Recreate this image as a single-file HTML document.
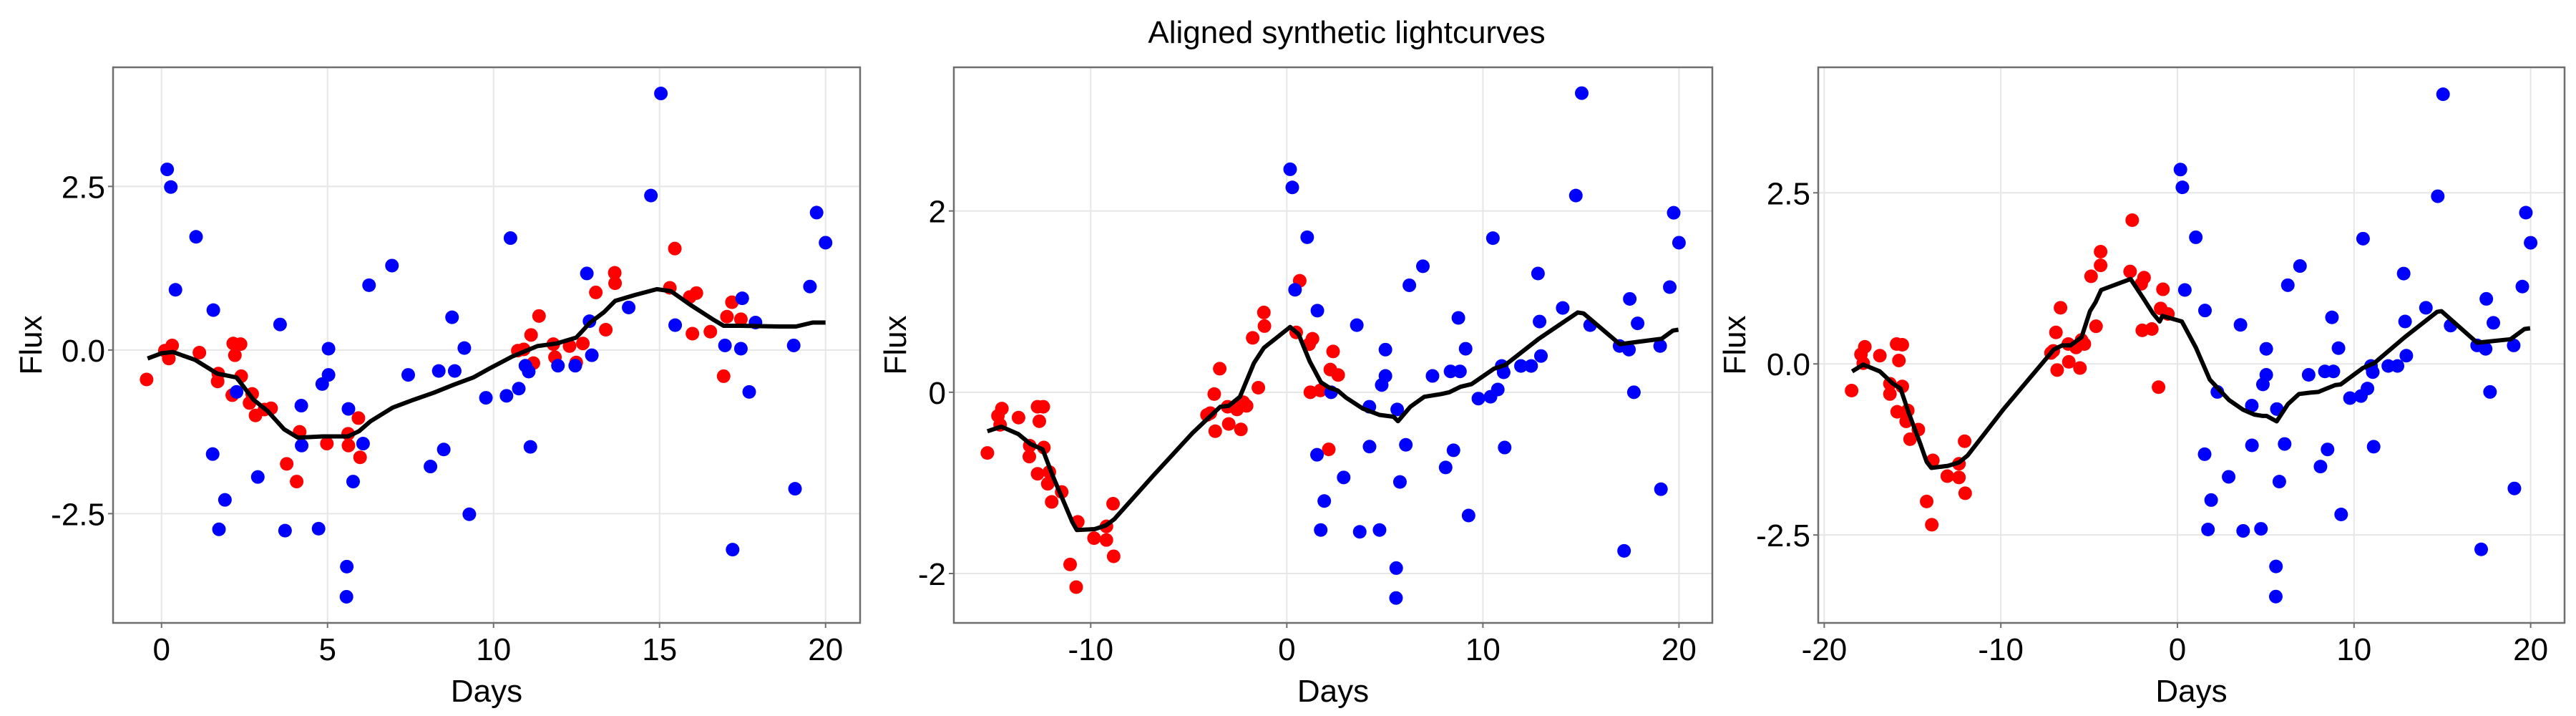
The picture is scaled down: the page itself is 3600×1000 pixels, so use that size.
<!DOCTYPE html>
<html><head><meta charset="utf-8"><style>
html,body{margin:0;padding:0;background:#fff;}
svg{display:block;font-family:"Liberation Sans",Arial,sans-serif;}
</style></head><body>
<svg id="chart" width="3600" height="1000" viewBox="0 0 3600 1000" xmlns="http://www.w3.org/2000/svg">
<rect width="3600" height="1000" fill="#fff"/>
<text x="1882" y="60" font-size="44" text-anchor="middle" fill="#000">Aligned synthetic lightcurves</text>
</svg>
<script>
// shared blue observation days
const blueDays = [0.17,0.28,0.42,1.04,1.56,1.54,1.73,1.91,2.26,2.90,3.57,3.72,4.21,4.22,4.73,4.84,5.03,5.03,5.58,5.57,5.63,5.77,6.07,6.25,6.94,7.43,8.10,8.35,8.50,8.75,8.83,9.12,9.27,9.77,10.39,10.51,10.76,10.96,11.06,11.11,11.94,12.46,12.81,12.89,12.96,14.07,14.74,15.04,15.47,16.97,17.20,17.45,17.49,17.70,17.89,19.04,19.08,19.53,19.73,20.0];
const blueFlux1 = [2.76,2.49,0.92,1.73,0.61,-1.59,-2.74,-2.29,-0.64,-1.94,0.39,-2.76,-0.85,-1.46,-2.73,-0.52,0.02,-0.38,-3.31,-3.77,-0.90,-2.01,-1.43,0.99,1.29,-0.38,-1.78,-0.32,-1.52,0.50,-0.32,0.03,-2.51,-0.73,-0.70,1.71,-0.59,-0.24,-0.33,-1.48,-0.24,-0.24,1.17,0.44,-0.08,0.65,2.36,3.92,0.38,0.07,-3.05,0.02,0.79,-0.64,0.42,0.07,-2.12,0.97,2.10,1.64];
const blueFlux2 = [2.46,2.26,1.13,1.71,0.90,-0.69,-1.52,-1.20,0.00,-0.94,0.74,-1.54,-0.16,-0.60,-1.52,0.08,0.47,0.18,-1.94,-2.27,-0.19,-0.99,-0.58,1.18,1.39,0.18,-0.83,0.23,-0.64,0.82,0.23,0.48,-1.36,-0.07,-0.05,1.70,0.03,0.29,0.22,-0.61,0.29,0.29,1.31,0.78,0.40,0.93,2.17,3.30,0.74,0.51,-1.75,0.47,1.03,0.00,0.76,0.51,-1.07,1.16,1.98,1.65];
const blueFlux3 = [2.84,2.58,1.08,1.85,0.78,-1.32,-2.42,-1.99,-0.41,-1.65,0.57,-2.44,-0.61,-1.19,-2.41,-0.30,0.22,-0.16,-2.96,-3.40,-0.66,-1.72,-1.17,1.15,1.43,-0.16,-1.50,-0.11,-1.25,0.68,-0.11,0.23,-2.20,-0.50,-0.47,1.83,-0.36,-0.03,-0.12,-1.21,-0.03,-0.03,1.32,0.62,0.12,0.82,2.45,3.94,0.56,0.27,-2.71,0.22,0.95,-0.41,0.60,0.27,-1.82,1.13,2.21,1.77];

const redDays1 = [-0.45,0.10,0.22,0.32,1.14,1.71,1.69,2.13,2.16,2.21,2.38,2.40,2.73,2.65,2.83,3.10,3.30,3.77,4.07,4.16,4.98,5.62,5.63,5.93,5.98,10.73,10.91,11.13,11.20,11.37,11.80,11.85,12.29,12.49,12.69,13.08,13.38,13.65,13.66,15.31,15.46,15.91,16.11,15.99,16.53,16.93,17.03,17.18,17.45];
const redFlux1 = [-0.45,-0.01,-0.13,0.07,-0.04,-0.36,-0.48,-0.69,0.10,-0.08,0.09,-0.40,-0.67,-0.81,-1.00,-0.91,-0.89,-1.74,-2.01,-1.25,-1.43,-1.28,-1.46,-1.04,-1.64,-0.01,0.01,0.23,-0.20,0.52,0.09,-0.11,0.06,-0.19,0.10,0.88,0.31,1.18,1.02,0.95,1.55,0.81,0.87,0.25,0.28,-0.40,0.51,0.73,0.47];
const lineDays1 = [-0.42,0,0.34,1.01,1.68,2.26,2.77,3.19,3.69,4.11,4.86,5.62,5.95,6.29,6.96,7.54,8.21,8.80,9.39,9.89,10.56,11.32,11.90,12.49,12.91,13.33,13.66,14.25,14.92,15.34,15.93,16.60,16.93,17.43,18.61,19.11,19.61,20.0];
const lineFlux1 = [-0.13,-0.05,-0.03,-0.15,-0.36,-0.42,-0.76,-0.93,-1.21,-1.34,-1.32,-1.32,-1.24,-1.09,-0.88,-0.77,-0.65,-0.53,-0.42,-0.28,-0.10,0.06,0.10,0.19,0.42,0.58,0.75,0.84,0.93,0.90,0.69,0.47,0.37,0.37,0.36,0.36,0.42,0.42];

const redDays2 = [-15.27,-14.73,-14.53,-14.62,-13.68,-13.11,-13.13,-12.71,-12.42,-12.62,-12.39,-12.71,-12.11,-12.19,-11.99,-11.48,-11.05,-10.74,-10.66,-9.83,-9.20,-9.20,-8.86,-8.83,-4.07,-3.90,-3.70,-3.65,-3.42,-3.02,-2.96,-2.54,-2.34,-2.22,-2.05,-1.74,-1.45,-1.17,-1.14,0.48,0.66,1.14,1.20,1.31,1.71,2.14,2.22,2.36,2.62];
const redFlux2 = [-0.67,-0.26,-0.18,-0.36,-0.28,-0.59,-0.71,-0.16,-0.16,-0.32,-0.61,-0.90,-0.88,-1.01,-1.21,-1.10,-1.90,-2.15,-1.43,-1.61,-1.48,-1.63,-1.23,-1.81,-0.25,-0.23,-0.02,-0.43,0.26,-0.16,-0.35,-0.19,-0.41,-0.11,-0.15,0.60,0.05,0.88,0.73,0.66,1.23,0.53,0.00,0.59,0.02,-0.63,0.25,0.45,0.19];
const lineDays2 = [-15.27,-14.56,-13.70,-13.08,-12.45,-11.94,-10.94,-10.71,-9.80,-9.23,-8.80,-6.81,-4.81,-3.39,-2.96,-2.39,-1.68,-1.17,0.17,0.60,1.17,1.74,2.17,2.59,3.02,3.87,4.73,5.44,5.67,6.30,7.01,7.86,8.29,8.86,9.43,10.57,11.14,12.85,14.84,15.13,16.98,19.12,19.69,19.97];
const lineFlux2 = [-0.43,-0.38,-0.46,-0.57,-0.63,-0.92,-1.43,-1.52,-1.51,-1.47,-1.40,-0.92,-0.45,-0.16,-0.15,-0.05,0.32,0.49,0.72,0.64,0.34,0.11,0.05,0.02,-0.06,-0.18,-0.25,-0.27,-0.32,-0.16,-0.05,-0.02,0.00,0.06,0.09,0.26,0.30,0.59,0.88,0.87,0.53,0.59,0.68,0.69];

const redDays3 = [-18.45,-17.92,-17.70,-17.79,-16.85,-16.28,-16.28,-15.90,-15.58,-15.77,-15.58,-15.87,-15.27,-15.36,-15.14,-14.67,-14.20,-13.91,-13.85,-13.03,-12.37,-12.37,-12.05,-12.02,-7.16,-7.03,-6.88,-6.81,-6.62,-6.18,-6.15,-5.74,-5.52,-5.43,-5.27,-4.89,-4.61,-4.35,-4.35,-2.68,-2.56,-2.05,-1.89,-1.99,-1.45,-1.07,-0.95,-0.82,-0.54];
const redFlux3 = [-0.39,0.14,0.25,0.01,0.12,-0.29,-0.44,0.29,0.28,0.05,-0.33,-0.70,-0.68,-0.84,-1.10,-0.96,-2.01,-2.35,-1.41,-1.64,-1.46,-1.66,-1.13,-1.89,0.16,0.19,0.46,-0.09,0.82,0.29,0.03,0.24,-0.06,0.35,0.29,1.28,0.55,1.44,1.64,1.35,2.10,1.17,1.26,0.49,0.51,-0.34,0.81,1.09,0.73];
const lineDays3 = [-18.42,-17.79,-16.85,-16.15,-15.68,-15.21,-14.57,-14.20,-13.94,-13.00,-12.37,-11.89,-9.84,-7.00,-6.53,-6.06,-5.43,-4.95,-4.64,-4.32,-2.65,-1.96,-1.39,-1.01,-0.85,0.25,1.04,1.83,2.93,3.72,4.35,4.83,5.05,5.62,6.25,6.88,7.51,7.98,8.45,8.93,9.24,10.50,11.14,12.87,14.70,14.95,16.97,18.86,19.65,19.97];
const lineFlux3 = [-0.11,-0.01,-0.11,-0.28,-0.36,-0.72,-1.16,-1.43,-1.52,-1.49,-1.44,-1.34,-0.66,0.21,0.27,0.27,0.39,0.77,0.90,1.08,1.24,0.97,0.74,0.62,0.70,0.62,0.24,-0.23,-0.53,-0.67,-0.74,-0.76,-0.76,-0.84,-0.59,-0.44,-0.42,-0.41,-0.36,-0.31,-0.30,-0.06,0.01,0.39,0.76,0.77,0.31,0.36,0.51,0.52];

const xTicks1 = [0,5,10,15,20];
const yTicks1 = [2.5,0,-2.5];
const yTickLabels1 = ["2.5","0.0","-2.5"];
const xTicks2 = [-10,0,10,20];
const yTicks2 = [2,0,-2];
const yTickLabels2 = ["2","0","-2"];
const xTicks3 = [-20,-10,0,10,20];
const yTicks3 = [2.5,0,-2.5];
const yTickLabels3 = ["2.5","0.0","-2.5"];

const NS="http://www.w3.org/2000/svg";
const svg=document.getElementById('chart');
function mk(tag,attrs,parent){const e=document.createElementNS(NS,tag);for(const k in attrs)e.setAttribute(k,attrs[k]);(parent||svg).appendChild(e);return e;}

function panel(p){
  const g=mk('g',{});
  
  
  const sx=v=>p.x0+(v-p.xmin)/(p.xmax-p.xmin)*(p.x1-p.x0);
  const sy=v=>p.y1-(v-p.ymin)/(p.ymax-p.ymin)*(p.y1-p.y0);
  p.xt.forEach(t=>{const l=mk('line',{x1:sx(t),x2:sx(t),y1:p.y0,y2:p.y1,stroke:'#e6e6e6','stroke-width':2},g);
    
    });
  p.yt.forEach(t=>{const l=mk('line',{x1:p.x0,x2:p.x1,y1:sy(t),y2:sy(t),stroke:'#e6e6e6','stroke-width':2},g);
    
    });
  p.rx.forEach((d,i)=>{const c=mk('circle',{cx:sx(d),cy:sy(p.ry[i]),r:9.5,fill:'#ff0000'},g);
    
    });
  p.bx.forEach((d,i)=>{const c=mk('circle',{cx:sx(d),cy:sy(p.by[i]),r:9.5,fill:'#0000ff'},g);
    
    });
  const pts=p.lx.map((d,i)=>sx(d).toFixed(1)+','+sy(p.ly[i]).toFixed(1)).join(' ');
  const pl=mk('polyline',{points:pts,fill:'none',stroke:'#000','stroke-width':6,'stroke-linejoin':'round'},g);
  
  
  const fr=mk('rect',{x:p.x0,y:p.y0,width:p.x1-p.x0,height:p.y1-p.y0,fill:'none',stroke:'#6e6e6e','stroke-width':2.5},g);
  
  
  p.xt.forEach(t=>{mk('line',{x1:sx(t),x2:sx(t),y1:p.y1,y2:p.y1+7,stroke:'#6e6e6e','stroke-width':2},g);
    const tx=mk('text',{x:sx(t),y:p.y1+52,'font-size':44,'text-anchor':'middle',fill:'#000'},g);tx.textContent=t;
    
    });
  p.yt.forEach((t,i)=>{mk('line',{x1:p.x0-7,x2:p.x0,y1:sy(t),y2:sy(t),stroke:'#6e6e6e','stroke-width':2},g);
    const tx=mk('text',{x:p.x0-11,y:sy(t)+16,'font-size':44,'text-anchor':'end',fill:'#000'},g);tx.textContent=p.ytl[i];
    
    });
  const xl=mk('text',{x:(p.x0+p.x1)/2,y:980,'font-size':44,'text-anchor':'middle',fill:'#000'},g);xl.textContent='Days';
  
  
  const yl=mk('text',{x:0,y:0,'font-size':44,'text-anchor':'middle',fill:'#000',transform:'translate('+(p.ylx+15)+','+((p.y0+p.y1)/2)+') rotate(-90)'},g);yl.textContent='Flux';
  
  
}
panel({id:1,x0:158,x1:1202,y0:94,y1:870,xmin:-1.46,xmax:21.04,ymin:-4.17,ymax:4.32,xt:xTicks1,yt:yTicks1,ytl:yTickLabels1,ylx:43,
  bx:blueDays,by:blueFlux1,rx:redDays1,ry:redFlux1,lx:lineDays1,ly:lineFlux1});
panel({id:2,x0:1333,x1:2393,y0:94,y1:870,xmin:-16.98,xmax:21.70,ymin:-2.545,ymax:3.585,xt:xTicks2,yt:yTicks2,ytl:yTickLabels2,ylx:1251,
  bx:blueDays,by:blueFlux2,rx:redDays2,ry:redFlux2,lx:lineDays2,ly:lineFlux2});
panel({id:3,x0:2541,x1:3584,y0:94,y1:870,xmin:-20.34,xmax:21.92,ymin:-3.785,ymax:4.334,xt:xTicks3,yt:yTicks3,ytl:yTickLabels3,ylx:2424,
  bx:blueDays,by:blueFlux3,rx:redDays3,ry:redFlux3,lx:lineDays3,ly:lineFlux3});
</script>
</body></html>
